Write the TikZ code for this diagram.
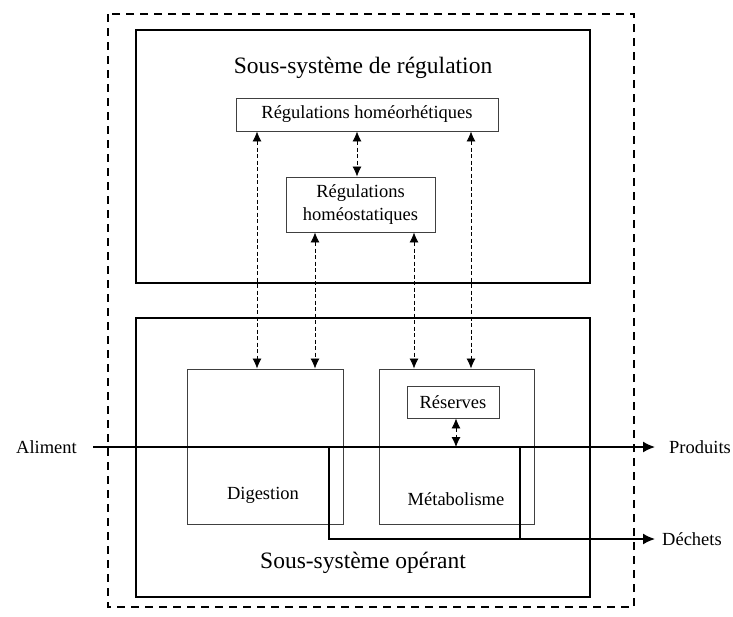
\documentclass[tikz,border=0pt]{standalone}
\usepackage{fontspec}
\setmainfont{Liberation Serif}
\usetikzlibrary{arrows.meta}
\begin{document}
\begin{tikzpicture}[x=1pt,y=-1pt,
  bigbox/.style={draw,line width=2.5pt},
  smallbox/.style={draw=black!75,line width=0.9pt},
  lbl/.style={inner sep=0pt,font=\fontsize{18.5}{23.5}\selectfont},
  ttl/.style={inner sep=0pt,font=\fontsize{23.5}{28}\selectfont},
  darr/.style={line width=0.8pt,dash pattern=on 4pt off 2.5pt,{Latex[length=10pt,width=9pt]}-{Latex[length=10pt,width=9pt]}},
  flow/.style={line width=1.6pt,-{Latex[length=12pt,width=11pt]}},
  flowline/.style={line width=1.6pt}]
\useasboundingbox (0,0) rectangle (733,616);
% outer system
\draw[line width=2pt,dash pattern=on 8pt off 6pt] (108,14) rectangle (634,607);
% sub-systems
\draw[bigbox] (136,30) rectangle (590,283);
\draw[bigbox] (136,318) rectangle (590,597);
\node[ttl] (treg) at (363,68) {Sous-système de régulation};
\node[ttl] (top) at (363,563) {Sous-système opérant};
% regulation boxes
\node[smallbox,minimum width=262pt,minimum height=33pt,lbl] (hr) at (367,114.5) {Régulations homéorhétiques};
\node[smallbox,minimum width=149pt,minimum height=55pt,lbl,align=center] (hs) at (360.5,204.5) {Régulations\\homéostatiques};
% operating boxes
\node[smallbox,minimum width=156pt,minimum height=155pt] (dg) at (265,446.5) {};
\node[smallbox,minimum width=155pt,minimum height=155pt] (mt) at (456.5,446.5) {};
\node[lbl] (tdg) at (263,495) {Digestion};
\node[lbl] (tmt) at (456,499) {Métabolisme};
\node[smallbox,minimum width=92pt,minimum height=32pt,lbl] (rs) at (453,402) {Réserves};
% x positions of connectors
\coordinate (x1) at (257,0);
\coordinate (x2) at (357,0);
\coordinate (x3) at (471,0);
\coordinate (x4) at (315,0);
\coordinate (x5) at (414,0);
\coordinate (x6) at (456,0);
% flows
\node[lbl,anchor=east] (al) at (77,447) {Aliment};
\node[lbl,anchor=west] (pr) at (669,447) {Produits};
\node[lbl,anchor=west] (de) at (662,539) {Déchets};
\coordinate (fs) at (93,447);
\coordinate (fe) at (655,447);
\coordinate (w1) at (329,447);
\coordinate (w2) at (520,447);
\coordinate (wb) at (329,539);
\coordinate (we) at (655,539);
\draw[darr] (hr.south -| x1) -- (dg.north -| x1);
\draw[darr] (hr.south -| x2) -- (hs.north -| x2);
\draw[darr] (hr.south -| x3) -- (mt.north -| x3);
\draw[darr] (hs.south -| x4) -- (dg.north -| x4);
\draw[darr] (hs.south -| x5) -- (mt.north -| x5);
\draw[darr] (rs.south -| x6) -- (fs -| x6);
\draw[flow] (fs) -- (fe);
\draw[flow] (w1) -- (wb) -- (we);
\draw[flowline] (w2) -- (wb -| w2);
\end{tikzpicture}
\end{document}
